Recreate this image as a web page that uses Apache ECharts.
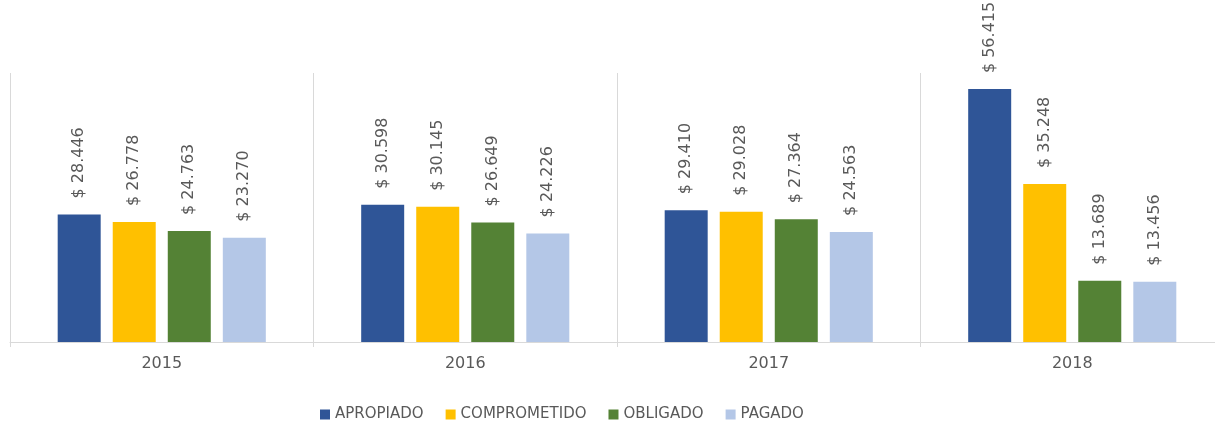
<!DOCTYPE html>
<html><head><meta charset="utf-8">
<script src="https://cdn.jsdelivr.net/npm/echarts@6/dist/echarts.min.js"></script>
<style>html,body{margin:0;padding:0;background:#fff;overflow:hidden;width:1215px;height:423px}#c{width:1224px;height:423px}</style>
</head><body><div id="c"></div>
<script>
const categories = ['2015', '2016', '2017', '2018'];
const seriesNames = ['APROPIADO', 'COMPROMETIDO', 'OBLIGADO', 'PAGADO'];
const apropiado = [28.446, 30.598, 29.410, 56.415];
const comprometido = [26.778, 30.145, 29.028, 35.248];
const obligado = [24.763, 26.649, 27.364, 13.689];
const pagado = [23.270, 24.226, 24.563, 13.456];
const colors = ['#2F5597', '#FFC000', '#548235', '#B4C7E7'];
const values = [apropiado, comprometido, obligado, pagado];

const font = 'DejaVu Sans';
const chart = echarts.init(document.getElementById('c'), null, {renderer: 'canvas'});
chart.setOption({
  animation: false,
  grid: {left: 10, right: 0, top: 73, bottom: 81, containLabel: false},
  legend: {
    left: 320, top: 407, padding: 0, itemWidth: 10, itemHeight: 10, itemGap: 22,
    icon: 'rect',
    textStyle: {fontFamily: font, fontSize: 15, color: '#595959'},
    data: seriesNames
  },
  xAxis: {
    type: 'category', data: categories,
    axisLine: {lineStyle: {color: '#D9D9D9', width: 1}},
    axisTick: {show: true, length: 5, lineStyle: {color: '#D9D9D9'}},
    splitLine: {show: true, lineStyle: {color: '#D9D9D9', width: 1}},
    axisLabel: {fontFamily: font, fontSize: 16, color: '#595959', margin: 14}
  },
  yAxis: {type: 'value', min: 0, max: 60, show: false, splitLine: {show: false}},
  series: seriesNames.map((n, i) => ({
    name: n, type: 'bar', data: values[i], barWidth: 43, barGap: '28%',
    itemStyle: {color: colors[i]},
    label: {
      show: true, position: 'top', rotate: 90, align: 'left', verticalAlign: 'middle',
      distance: 16, fontFamily: font, fontSize: 16, color: '#595959',
      formatter: p => '$ ' + p.value.toFixed(3)
    }
  }))
});
</script></body></html>
